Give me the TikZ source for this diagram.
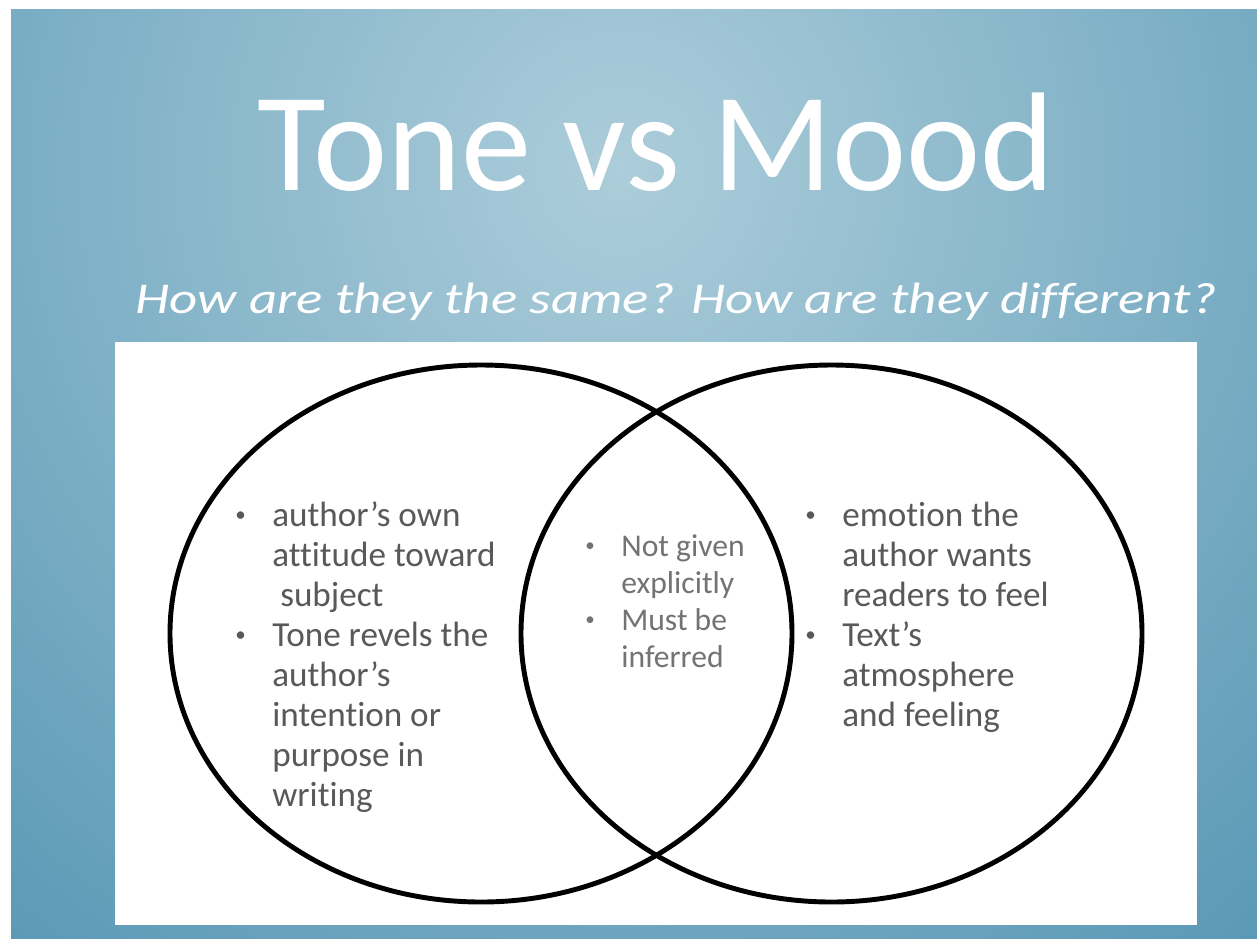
\documentclass[tikz,border=0pt]{standalone}
\usepackage{fontspec}
\setmainfont{Carlito}[Ligatures=NoCommon]
\newfontfamily\subfont[FakeStretch=1.25,Ligatures=NoCommon]{Carlito}
\definecolor{mybluelight}{RGB}{172,205,218}
\definecolor{mybluedark}{RGB}{78,145,176}
\definecolor{mytext}{RGB}{89,89,89}
\definecolor{mytextlight}{RGB}{115,115,115}
\newcommand{\smallbullet}{\raisebox{0.13em}{\scalebox{0.6}{\textbullet}}}
\newcommand{\bul}{\makebox[0.74cm][l]{\smallbullet}}
\newcommand{\ind}{\hspace{0.74cm}}
\newcommand{\bulm}{\makebox[0.72cm][l]{\smallbullet}}
\newcommand{\indm}{\hspace{0.72cm}}

\begin{document}
\begin{tikzpicture}[x=0.02cm, y=-0.02cm,
    vennline/.style={line width=2.8pt, black},
    sideText/.style={anchor=base west, inner sep=0pt, align=left, text=mytext,
        font=\fontsize{20pt}{22.76pt}\selectfont},
    midText/.style={anchor=base west, inner sep=0pt, align=left, text=mytextlight,
        font=\fontsize{18pt}{21.05pt}\selectfont}]
    \useasboundingbox (0, 0) rectangle (1257, 938);
    \fill[white] (0, 0) rectangle (1257, 938);
    % Background
    \begin{scope}
        \clip (11, 9) rectangle (1257, 938);
        \shade[inner color=mybluelight, outer color=mybluedark] (620, 170) circle (1150);
    \end{scope}
    % Title
    \node[anchor=base, inner sep=0pt, text=white, font=\fontsize{80pt}{96pt}\selectfont]
        (Title) at (656, 190) {Tone vs Mood};
    \node[anchor=base, inner sep=0pt, text=white, font=\subfont\itshape\fontsize{25pt}{30pt}\selectfont]
        (SubTitle) at (676, 313) {How are they the same? How are they different?};
    % Venn
    \fill[white] (115, 342) rectangle (1197, 925);
    \draw[vennline] (481, 633.5) ellipse [x radius=311, y radius=268.5];
    \draw[vennline] (831.5, 633.5) ellipse [x radius=310.5, y radius=268.5];
    \node[sideText] (ToneText) at (235, 806) {%
        \bul author’s own\\
        \ind attitude toward\\
        \ind\ subject\\
        \bul Tone revels the\\
        \ind author’s\\
        \ind intention or\\
        \ind purpose in\\
        \ind writing};
    \node[midText] (BothText) at (585, 667) {%
        \bulm Not given\\
        \indm explicitly\\
        \bulm Must be\\
        \indm inferred};
    \node[sideText] (MoodText) at (805, 726) {%
        \bul emotion the\\
        \ind author wants\\
        \ind readers to feel\\
        \bul Text’s\\
        \ind atmosphere\\
        \ind and feeling};
\end{tikzpicture}
\end{document}
